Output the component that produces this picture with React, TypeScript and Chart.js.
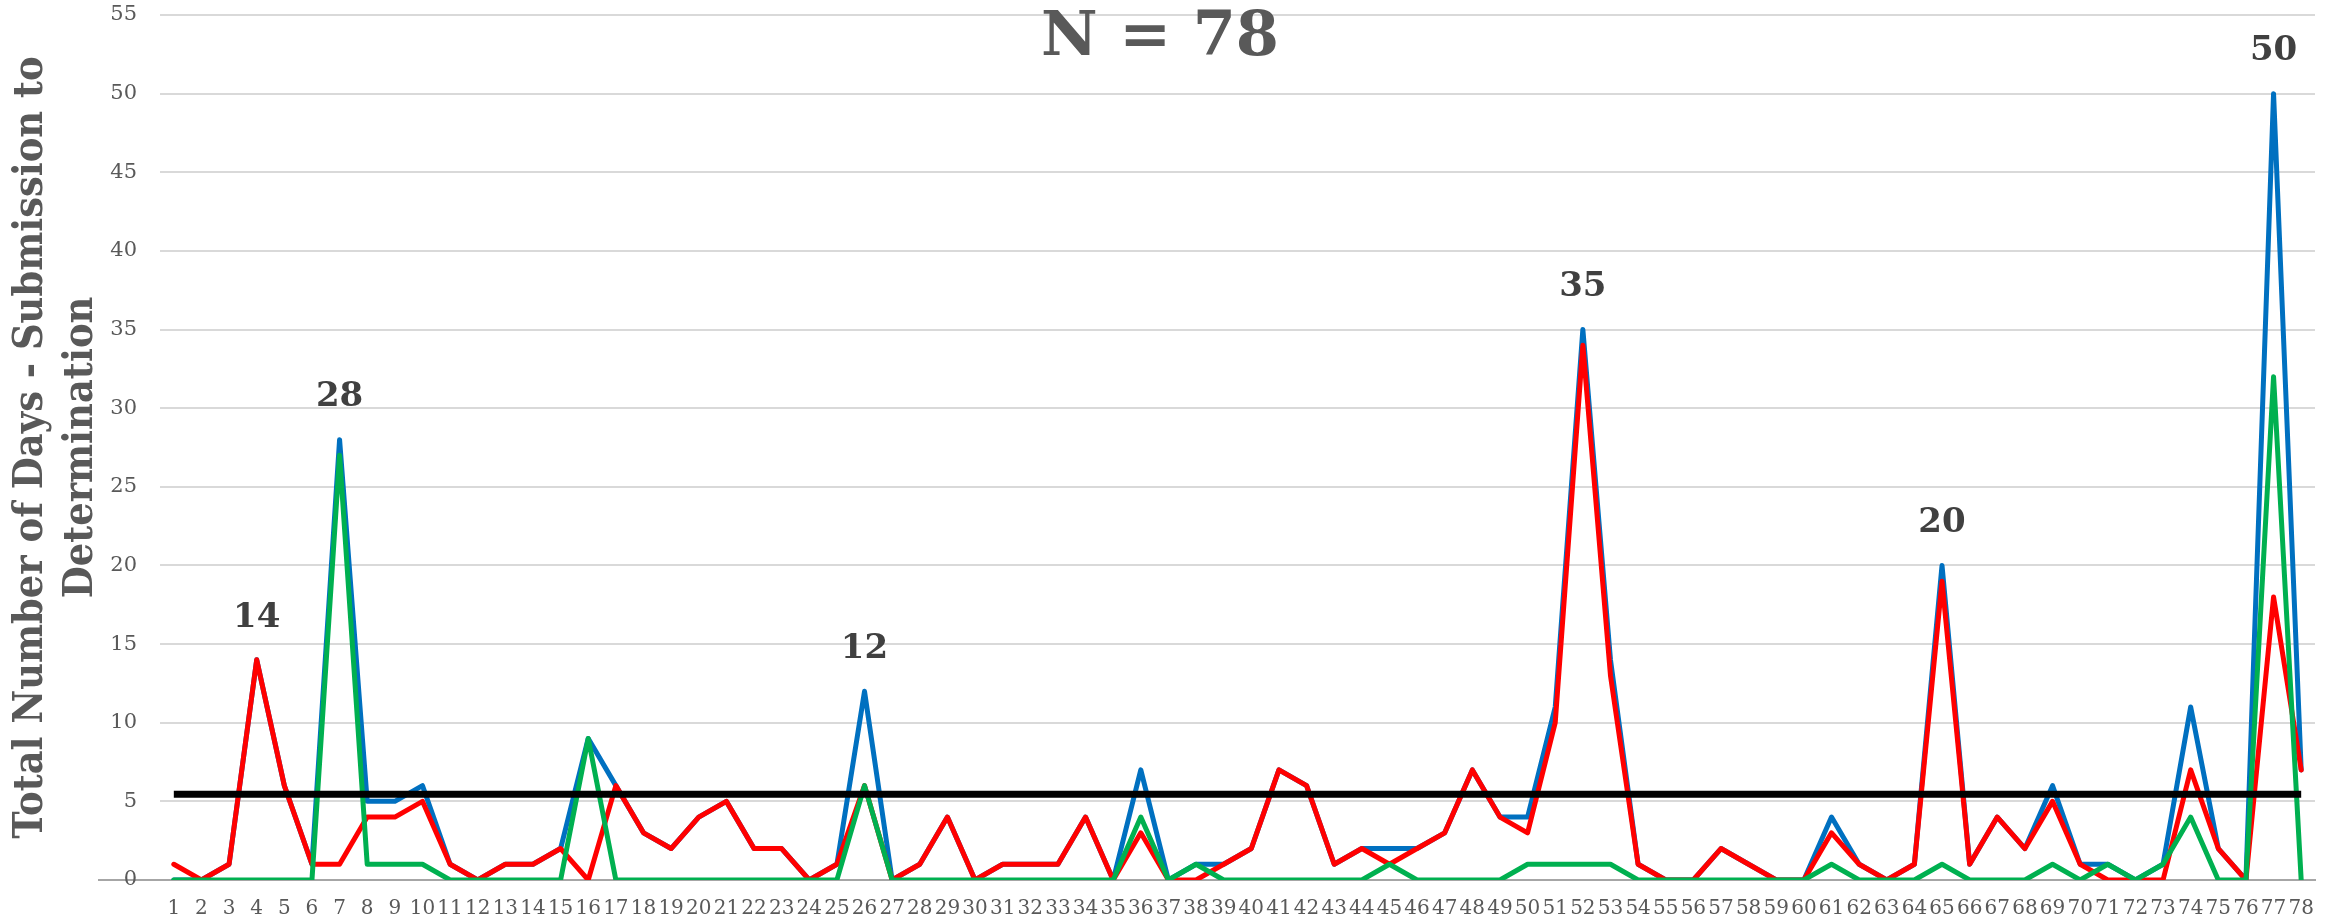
import React, { useEffect, useRef } from 'react';
import { Chart, registerables } from 'chart.js';

Chart.register(...registerables);

const categories = [
  '1','2','3','4','5','6','7','8','9','10','11','12','13','14','15','16','17','18','19','20',
  '21','22','23','24','25','26','27','28','29','30','31','32','33','34','35','36','37','38','39','40',
  '41','42','43','44','45','46','47','48','49','50','51','52','53','54','55','56','57','58','59','60',
  '61','62','63','64','65','66','67','68','69','70','71','72','73','74','75','76','77','78',
];

const totalDays = [
  0, 0, 1, 14, 6, 1, 28, 5, 5, 6, 1, 0, 1, 1, 2, 9, 6, 3, 2, 4,
  5, 2, 2, 0, 1, 12, 0, 1, 4, 0, 1, 1, 1, 4, 0, 7, 0, 1, 1, 2,
  7, 6, 1, 2, 2, 2, 3, 7, 4, 4, 11, 35, 14, 1, 0, 0, 2, 1, 0, 0,
  4, 1, 0, 1, 20, 1, 4, 2, 6, 1, 1, 0, 1, 11, 2, 0, 50, 7,
];

const redDays = [
  1, 0, 1, 14, 6, 1, 1, 4, 4, 5, 1, 0, 1, 1, 2, 0, 6, 3, 2, 4,
  5, 2, 2, 0, 1, 6, 0, 1, 4, 0, 1, 1, 1, 4, 0, 3, 0, 0, 1, 2,
  7, 6, 1, 2, 1, 2, 3, 7, 4, 3, 10, 34, 13, 1, 0, 0, 2, 1, 0, 0,
  3, 1, 0, 1, 19, 1, 4, 2, 5, 1, 0, 0, 0, 7, 2, 0, 18, 7,
];

const greenDays = [
  0, 0, 0, 0, 0, 0, 27, 1, 1, 1, 0, 0, 0, 0, 0, 9, 0, 0, 0, 0,
  0, 0, 0, 0, 0, 6, 0, 0, 0, 0, 0, 0, 0, 0, 0, 4, 0, 1, 0, 0,
  0, 0, 0, 0, 1, 0, 0, 0, 0, 1, 1, 1, 1, 0, 0, 0, 0, 0, 0, 0,
  1, 0, 0, 0, 1, 0, 0, 0, 1, 0, 1, 0, 1, 4, 0, 0, 32, 0,
];

const averageLevel = [5.45];
const peakCategories = ['4', '7', '26', '52', '65', '77'];
const yTicks = [0, 5, 10, 15, 20, 25, 30, 35, 40, 45, 50, 55];
const chartTitle = 'N = 78';
const yTitle = ['Total Number of Days - Submission to', 'Determination'];

export default function App() {
  const canvasRef = useRef<HTMLCanvasElement | null>(null);

  useEffect(() => {
    const canvas = canvasRef.current;
    if (!canvas) return;

    const overlay = {
      id: 'overlay',
      afterDatasetsDraw(chart: any) {
        const ctx = chart.ctx;
        const { left, right, top } = chart.chartArea;
        ctx.save();
        ctx.fillStyle = '#595959';
        ctx.font = 'bold 62px "DejaVu Serif"';
        ctx.textAlign = 'center';
        ctx.textBaseline = 'middle';
        ctx.fillText(chartTitle, left + (right - left) * 0.464, top + 24);

        const meta = chart.getDatasetMeta(3);
        ctx.fillStyle = '#404040';
        ctx.font = 'bold 34px "DejaVu Serif"';
        peakCategories.forEach((c) => {
          const idx = categories.indexOf(c);
          const pt = meta.data[idx];
          if (!pt) return;
          ctx.fillText(String(totalDays[idx]), pt.x, pt.y - 42);
        });
        ctx.restore();
      },
    };

    const chart = new Chart(canvas, {
      type: 'line',
      data: {
        labels: categories,
        datasets: [
          {
            label: 'Average',
            data: categories.map(() => averageLevel[0]),
            borderColor: '#000000',
            borderWidth: 7,
            pointRadius: 0,
            borderCapStyle: 'butt',
          },
          {
            label: 'Green',
            data: greenDays,
            borderColor: '#00B050',
            borderWidth: 5,
            pointRadius: 0,
            borderJoinStyle: 'round',
            borderCapStyle: 'round',
          },
          {
            label: 'Red',
            data: redDays,
            borderColor: '#FF0000',
            borderWidth: 5,
            pointRadius: 0,
            borderJoinStyle: 'round',
            borderCapStyle: 'round',
          },
          {
            label: 'Total',
            data: totalDays,
            borderColor: '#0070C0',
            borderWidth: 5,
            pointRadius: 0,
            borderJoinStyle: 'round',
            borderCapStyle: 'round',
          },
        ],
      },
      options: {
        responsive: false,
        animation: false,
        devicePixelRatio: 1,
        layout: { padding: { top: 15, right: 28, bottom: 0, left: 0 } },
        plugins: {
          legend: { display: false },
          tooltip: { enabled: false },
          title: { display: false },
        },
        scales: {
          x: {
            offset: true,
            grid: { display: false },
            border: { display: true, color: '#a6a6a6', width: 2 },
            ticks: {
              autoSkip: false,
              maxRotation: 0,
              minRotation: 0,
              color: '#595959',
              font: { family: '"DejaVu Serif"', size: 20 },
              padding: 9,
            },
            afterFit: (s: any) => {
              s.height = 43;
            },
          },
          y: {
            min: 0,
            max: 55,
            afterBuildTicks: (s: any) => {
              s.ticks = yTicks.map((v) => ({ value: v }));
            },
            border: { display: false },
            grid: {
              color: (c: any) => (c.tick && c.tick.value === 0 ? '#a6a6a6' : '#d9d9d9'),
              lineWidth: 2,
              drawTicks: true,
              tickLength: 62,
              tickColor: (c: any) => (c.tick && c.tick.value === 0 ? '#a6a6a6' : 'rgba(0,0,0,0)'),
            },
            ticks: {
              color: '#595959',
              font: { family: '"DejaVu Serif"', size: 21 },
              padding: -39,
            },
            title: {
              display: true,
              text: yTitle,
              color: '#595959',
              font: { family: '"DejaVu Serif Condensed", "DejaVu Serif"', weight: 'bold', size: 41, lineHeight: 1.22 },
              padding: { top: 6, bottom: 0 },
            },
            afterFit: (s: any) => {
              s.width = 160;
            },
          },
        },
      },
      plugins: [overlay],
    } as any);

    return () => chart.destroy();
  }, []);

  return (
    <div style={{ position: 'fixed', left: 0, top: 0, width: 2343, height: 923, background: '#ffffff' }}>
      <canvas ref={canvasRef} width={2343} height={923} style={{ width: 2343, height: 923 }} />
    </div>
  );
}
